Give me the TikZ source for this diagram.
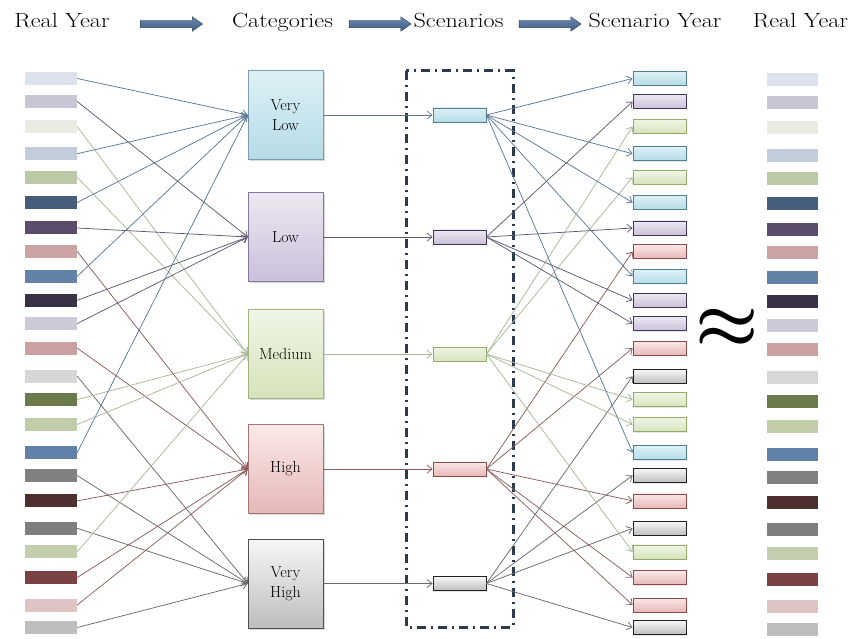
\documentclass[tikz,border=0pt]{standalone}
\usepackage{amsmath}
\usepackage{xcolor}
\usepackage{tikz}
\usetikzlibrary{arrows.meta,shapes.arrows,shadows}

% real year swatches
\definecolor{ry1}{HTML}{DDE3EC}
\definecolor{ry2}{HTML}{C8C6D4}
\definecolor{ry3}{HTML}{E9EDE1}
\definecolor{ry4}{HTML}{C2CCDA}
\definecolor{ry5}{HTML}{BCC9A6}
\definecolor{ry6}{HTML}{465D7B}
\definecolor{ry7}{HTML}{5C4C6C}
\definecolor{ry8}{HTML}{CDA4A4}
\definecolor{ry9}{HTML}{6282A7}
\definecolor{ry10}{HTML}{3A3146}
\definecolor{ry11}{HTML}{CCC9D8}
\definecolor{ry12}{HTML}{CBA0A1}
\definecolor{ry13}{HTML}{D7D7D7}
\definecolor{ry14}{HTML}{6B7B4C}
\definecolor{ry15}{HTML}{C1CCA8}
\definecolor{ry16}{HTML}{6281A8}
\definecolor{ry17}{HTML}{808080}
\definecolor{ry18}{HTML}{4F2E2F}
\definecolor{ry19}{HTML}{7F7F7F}
\definecolor{ry20}{HTML}{C3CEAE}
\definecolor{ry21}{HTML}{7B4243}
\definecolor{ry22}{HTML}{DEC3C3}
\definecolor{ry23}{HTML}{BEBEBE}
% categories
\definecolor{vlTop}{HTML}{DDF0F5}\definecolor{vlBot}{HTML}{B5DCE7}
\definecolor{vlBd}{HTML}{7E9DAC}\definecolor{vlLn}{HTML}{5E7896}\definecolor{vlYb}{HTML}{4F7F91}
\definecolor{loTop}{HTML}{ECE8F2}\definecolor{loBot}{HTML}{CBC0DA}
\definecolor{loBd}{HTML}{85799A}\definecolor{loLn}{HTML}{5F5A74}\definecolor{loYb}{HTML}{3F3552}
\definecolor{meTop}{HTML}{F0F5E6}\definecolor{meBot}{HTML}{D6E3BB}
\definecolor{meBd}{HTML}{9FB47E}\definecolor{meLn}{HTML}{A9B79A}\definecolor{meYb}{HTML}{93AA6A}
\definecolor{hiTop}{HTML}{FBE8E8}\definecolor{hiBot}{HTML}{E5B8B7}
\definecolor{hiBd}{HTML}{A57574}\definecolor{hiLn}{HTML}{8B5D5D}\definecolor{hiYb}{HTML}{8E4A49}
\definecolor{vhTop}{HTML}{F7F7F7}\definecolor{vhBot}{HTML}{BDBDBD}
\definecolor{vhBd}{HTML}{4F4F4F}\definecolor{vhLn}{HTML}{6A6A6A}\definecolor{vhYb}{HTML}{1F1F1F}
% heading arrows, frame
\definecolor{arTop}{HTML}{6F8CB2}
\definecolor{arBot}{HTML}{3F5A80}
\definecolor{arBd}{HTML}{2E4260}
\definecolor{frameC}{HTML}{2B3A4F}

\begin{document}
\begin{tikzpicture}[
    x=1pt, y=-1pt,
    head/.style = {anchor=base, inner sep=0pt, xscale=1.18, font=\fontsize{20.5}{24}\selectfont},
    bigarrow/.style = {single arrow, draw=arBd, top color=arTop, bottom color=arBot,
                       minimum height=62pt, inner xsep=0pt, inner ysep=3.5pt,
                       single arrow head extend=3.5pt, single arrow tip angle=70},
    swatch/.style = {rectangle, minimum width=52pt, minimum height=13pt, inner sep=0pt},
    catbox/.style = {rectangle, minimum width=75pt, minimum height=89pt, align=center,
                     font=\fontsize{16}{19.5}\selectfont,
                     drop shadow={opacity=0.3, shadow xshift=1.5pt, shadow yshift=-1.5pt}},
    slim/.style = {rectangle, minimum width=53pt, minimum height=14pt, inner sep=0pt,
                   line width=0.8pt,
                   drop shadow={opacity=0.2, shadow xshift=1pt, shadow yshift=-1pt}},
    link/.style = {-{Straight Barb[length=5pt,width=8pt]}, line width=0.75pt},
    frame/.style = {draw=frameC, line width=3pt, dash pattern=on 9pt off 5pt on 2pt off 5pt},
    wavy/.style = {inner sep=0pt, scale=2.85, font=\Huge}
  ]
    \useasboundingbox (0,0) rectangle (857,639);

    % headings
    \node[head] (hd-real) at (62,28) {Real Year};
    \node[head] (hd-cat) at (282.5,28) {Categories};
    \node[head] (hd-scn) at (458.5,28) {Scenarios};
    \node[head] (hd-syr) at (655,28) {Scenario Year};
    \node[head] (hd-real2) at (800.5,28) {Real Year};
    \node[bigarrow] (ar1) at (169,24) {};
    \node[bigarrow] (ar2) at (377.5,24) {};
    \node[bigarrow] (ar3) at (547.5,24) {};

    % approximately equal sign
    \node[wavy] (simeq) at (727,329) {$\boldsymbol{\approx}$};

    % scenario frame
    \draw[frame] (406,71) rectangle (513,627);

    % categories and scenarios
    \foreach \c/\yy/\lab in {vl/115/{Very\\Low}, lo/237/Low, me/354/Medium,
                             hi/469/High, vh/583.5/{Very\\High}}{
      \node[catbox, draw=\c Bd, top color=\c Top, bottom color=\c Bot] (cat-\c) at (285.5,\yy) {\lab};
      \node[slim, draw=\c Yb, top color=\c Top, bottom color=\c Bot] (scn-\c) at (459.5,\yy) {};
      \draw[link, color=\c Ln] (cat-\c.east) -- (scn-\c.west);
    }

    % years
    \foreach \i/\yy/\c in {1/78.5/vl, 2/101.5/lo, 3/126.5/me, 4/153.7/vl, 5/177.3/me,
                           6/202.5/vl, 7/228/lo, 8/251.5/hi, 9/276.3/vl, 10/300.3/lo,
                           11/323.6/lo, 12/348.2/hi, 13/376.3/vh, 14/399.6/me, 15/424.5/me,
                           16/452.6/vl, 17/475.5/vh, 18/500.9/hi, 19/528.3/vh, 20/551.9/me,
                           21/577.5/hi, 22/605/hi, 23/627.5/vh}{
      \node[swatch, fill=ry\i] (sw\i) at (51,\yy) {};
      \node[slim, draw=\c Yb, top color=\c Top, bottom color=\c Bot] (yr\i) at (659.5,\yy) {};
      \node[swatch, fill=ry\i, minimum width=51pt] (rr\i) at (792.5,\yy+1.5) {};
      \draw[link, color=\c Ln] (sw\i.east) -- (cat-\c.west);
      \draw[link, color=\c Ln] (scn-\c.east) -- (yr\i.west);
    }
  \end{tikzpicture}
\end{document}
